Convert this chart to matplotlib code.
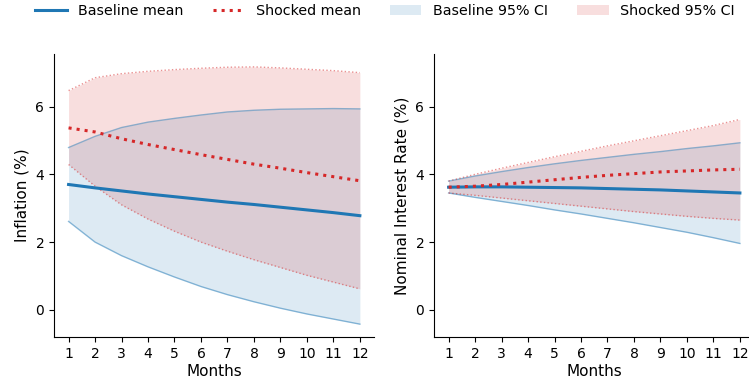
import numpy as np
import matplotlib
matplotlib.use("Agg")
import matplotlib.pyplot as plt

months = np.arange(1, 13)

# Inflation (%) paths
infl_base_mean = [3.70, 3.60, 3.51, 3.42, 3.34, 3.26, 3.18, 3.11, 3.03, 2.95, 2.87, 2.78]
infl_base_lo = [2.61, 2.00, 1.60, 1.27, 0.97, 0.69, 0.45, 0.24, 0.05, -0.12, -0.27, -0.42]
infl_base_hi = [4.79, 5.12, 5.38, 5.54, 5.65, 5.75, 5.84, 5.89, 5.92, 5.93, 5.94, 5.93]
infl_shock_mean = [5.37, 5.25, 5.05, 4.88, 4.73, 4.58, 4.44, 4.30, 4.18, 4.05, 3.93, 3.81]
infl_shock_lo = [4.29, 3.65, 3.10, 2.68, 2.32, 2.00, 1.73, 1.48, 1.25, 1.02, 0.82, 0.62]
infl_shock_hi = [6.47, 6.85, 6.97, 7.04, 7.09, 7.13, 7.16, 7.17, 7.14, 7.10, 7.06, 7.00]

# Nominal interest rate (%) paths
rate_base_mean = [3.62, 3.63, 3.63, 3.62, 3.61, 3.60, 3.58, 3.56, 3.54, 3.51, 3.48, 3.45]
rate_base_lo = [3.45, 3.32, 3.20, 3.08, 2.95, 2.83, 2.70, 2.57, 2.43, 2.29, 2.13, 1.96]
rate_base_hi = [3.80, 3.95, 4.08, 4.20, 4.31, 4.41, 4.50, 4.59, 4.67, 4.76, 4.84, 4.93]
rate_shock_mean = [3.62, 3.65, 3.70, 3.77, 3.84, 3.91, 3.97, 4.02, 4.07, 4.10, 4.13, 4.15]
rate_shock_lo = [3.45, 3.38, 3.30, 3.22, 3.14, 3.06, 2.98, 2.90, 2.83, 2.76, 2.70, 2.65]
rate_shock_hi = [3.80, 4.00, 4.18, 4.35, 4.52, 4.68, 4.84, 4.99, 5.14, 5.29, 5.44, 5.62]

BLUE = "#1f77b4"
RED = "#d62728"

fig, axes = plt.subplots(1, 2, figsize=(7.49, 3.92), dpi=100, sharey=True)
fig.subplots_adjust(left=0.0721, right=1.0073, bottom=0.1403, top=0.8622, wspace=0.186)

panels = [
    (axes[0], "Inflation (%)", infl_base_mean, infl_base_lo, infl_base_hi,
     infl_shock_mean, infl_shock_lo, infl_shock_hi),
    (axes[1], "Nominal Interest Rate (%)", rate_base_mean, rate_base_lo, rate_base_hi,
     rate_shock_mean, rate_shock_lo, rate_shock_hi),
]

for ax, ylabel, bm, blo, bhi, sm, slo, shi in panels:
    ax.fill_between(months, blo, bhi, color=BLUE, alpha=0.15, lw=0, label="Baseline 95% CI")
    ax.plot(months, blo, color=BLUE, lw=1, alpha=0.5)
    ax.plot(months, bhi, color=BLUE, lw=1, alpha=0.5)
    ax.fill_between(months, slo, shi, color=RED, alpha=0.15, lw=0, label="Shocked 95% CI")
    ax.plot(months, slo, color=RED, lw=1, ls=":", alpha=0.5)
    ax.plot(months, shi, color=RED, lw=1, ls=":", alpha=0.5)
    ax.plot(months, bm, color=BLUE, lw=2.2, label="Baseline mean")
    ax.plot(months, sm, color=RED, lw=2.2, ls=":", label="Shocked mean")

    ax.set_xticks(months)
    ax.set_yticks([0, 2, 4, 6])
    ax.tick_params(labelsize=10, labelleft=True)
    ax.set_xlabel("Months", fontsize=11, labelpad=2)
    ax.set_ylabel(ylabel, fontsize=11)
    ax.spines["top"].set_visible(False)
    ax.spines["right"].set_visible(False)

handles, labels = axes[0].get_legend_handles_labels()
order = [labels.index(n) for n in ["Baseline mean", "Shocked mean", "Baseline 95% CI", "Shocked 95% CI"]]
fig.legend([handles[i] for i in order], [labels[i] for i in order],
           loc="upper center", bbox_to_anchor=(0.514, 1.022), ncol=4, frameon=False,
           fontsize=10.3, columnspacing=2.05, handlelength=2.2)

fig.savefig("out.png", dpi=100)
